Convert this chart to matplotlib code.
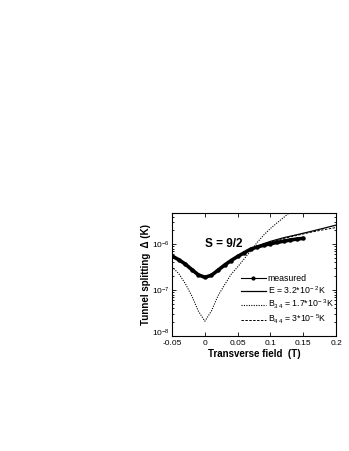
"""Tunnel splitting vs transverse field, S = 9/2."""

import matplotlib

matplotlib.use("Agg")
import matplotlib.pyplot as plt
import matplotlib.transforms as mtransforms
from matplotlib.lines import Line2D

plt.rcParams["font.family"] = ["Liberation Sans", "DejaVu Sans"]
plt.rcParams["mathtext.fontset"] = "custom"
plt.rcParams["mathtext.rm"] = "Liberation Sans"
plt.rcParams["mathtext.it"] = "Liberation Sans:italic"
plt.rcParams["mathtext.bf"] = "Liberation Sans:bold"

# --- Data ---
field_meas = [-0.05, -0.04, -0.03, -0.02, -0.01, 0.0, 0.01, 0.02, 0.03, 0.04,
              0.05, 0.06, 0.07, 0.08, 0.09, 0.10, 0.11, 0.12, 0.13, 0.14, 0.15]
split_meas = [5.5e-7, 4.6e-7, 3.7e-7, 2.8e-7, 2.15e-7, 1.9e-7, 2.1e-7, 2.7e-7,
              3.5e-7, 4.4e-7, 5.4e-7, 6.5e-7, 7.8e-7, 8.7e-7, 9.5e-7, 1.02e-6,
              1.09e-6, 1.16e-6, 1.23e-6, 1.29e-6, 1.34e-6]

field_E = [-0.05, -0.04, -0.03, -0.02, -0.01, 0.0, 0.01, 0.02, 0.03, 0.04, 0.05,
           0.06, 0.07, 0.08, 0.09, 0.10, 0.12, 0.14, 0.16, 0.18, 0.20]
split_E = [5.6e-7, 4.6e-7, 3.6e-7, 2.75e-7, 2.1e-7, 1.85e-7, 2.1e-7, 2.7e-7,
           3.5e-7, 4.4e-7, 5.4e-7, 6.6e-7, 7.9e-7, 9.0e-7, 1.03e-6, 1.15e-6,
           1.38e-6, 1.6e-6, 1.87e-6, 2.2e-6, 2.6e-6]

field_B34 = [-0.05, -0.04, -0.03, -0.02, -0.01, 0.0, 0.01, 0.02, 0.03, 0.04,
             0.05, 0.06, 0.07, 0.08, 0.09, 0.10, 0.11, 0.12, 0.13, 0.14]
split_B34 = [3.2e-7, 2.3e-7, 1.4e-7, 7.5e-8, 3.5e-8, 2.1e-8, 3.5e-8, 7.5e-8,
             1.3e-7, 2.2e-7, 3.2e-7, 4.8e-7, 7.2e-7, 1.1e-6, 1.6e-6, 2.2e-6,
             2.9e-6, 3.8e-6, 5.0e-6, 6.4e-6]

field_B44 = [-0.05, -0.04, -0.03, -0.02, -0.01, 0.0, 0.01, 0.02, 0.03, 0.04, 0.05,
             0.06, 0.07, 0.08, 0.09, 0.10, 0.12, 0.14, 0.16, 0.18, 0.20]
split_B44 = [5.6e-7, 4.6e-7, 3.6e-7, 2.75e-7, 2.1e-7, 1.85e-7, 2.1e-7, 2.7e-7,
             3.5e-7, 4.4e-7, 5.4e-7, 6.6e-7, 7.9e-7, 8.9e-7, 1.0e-6, 1.12e-6,
             1.33e-6, 1.55e-6, 1.8e-6, 2.05e-6, 2.3e-6]

labels = [
    "measured",
    "E = 3.2*10$^{-\\ 2}$K",
    "B$_{3\\,4}$ = 1.7*10$^{-\\ 3}$K",
    "B$_{4\\,4}$ = 3*10$^{-\\ 5}$K",
]

fig = plt.figure(figsize=(3.49, 4.51), dpi=100)
ax = fig.add_axes([0.493, 0.255, 0.470, 0.273])

ax.plot(field_meas, split_meas, color="black", lw=2.6, marker="o",
        markersize=2.2, solid_capstyle="round", zorder=4)
ax.plot(field_E, split_E, color="black", lw=0.9, zorder=3)
ax.plot(field_B34, split_B34, color="black", lw=0.8, ls=(0, (1, 1.2)), zorder=2)
ax.plot(field_B44, split_B44, color="black", lw=0.7, ls=(0, (2.5, 1.5)), zorder=2)

ax.set_yscale("log")
ax.set_xlim(-0.05, 0.2)
ax.set_ylim(1e-8, 4.8e-6)
ax.set_xticks([-0.05, 0, 0.05, 0.1, 0.15, 0.2])
ax.set_xticklabels(["-0.05", "0", "0.05", "0.1", "0.15", "0.2"])
ax.set_yticks([1e-8, 1e-7, 1e-6])

ax.tick_params(which="both", direction="in", top=True, right=True,
               labelsize=6, pad=1.5, width=0.6)
ax.tick_params(axis="x", pad=3)
ax.tick_params(which="major", length=3)
ax.tick_params(which="minor", length=1.5)
for s in ax.spines.values():
    s.set_linewidth(0.8)

# nudge the lowest y label up so it clears the first x label
fig.canvas.draw()
lowest = ax.get_yticklabels()[0]
lowest.set_transform(lowest.get_transform()
                     + mtransforms.ScaledTranslation(0, 3 / 72, fig.dpi_scale_trans))

ax.set_xlabel("Transverse field  (T)", fontsize=7, fontweight="bold", labelpad=1)
ax.set_ylabel("Tunnel splitting  \u0394 (K)", fontsize=7, fontweight="bold",
              labelpad=1)

ax.text(0.2, 0.75, "S = 9/2", transform=ax.transAxes, fontsize=8.5,
        fontweight="bold", ha="left", va="center")

handles = [
    Line2D([], [], color="black", lw=0.8, marker="o", markersize=2),
    Line2D([], [], color="black", lw=0.9),
    Line2D([], [], color="black", lw=0.8, ls=(0, (1, 1.2))),
    Line2D([], [], color="black", lw=0.7, ls=(0, (2.5, 1.5))),
]
ax.legend(handles, labels, loc="lower right", bbox_to_anchor=(0.985, 0.08),
          fontsize=6.3, frameon=False, handlelength=2.9, handletextpad=0.2,
          labelspacing=0.2, borderaxespad=0.0, borderpad=0.0)

fig.savefig("out.png", dpi=100)
